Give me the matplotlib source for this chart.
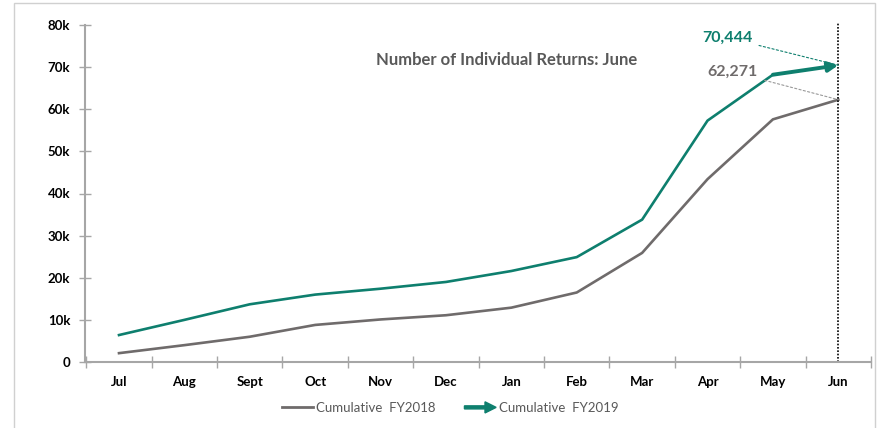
import matplotlib
matplotlib.use("Agg")
import matplotlib.pyplot as plt
from matplotlib.patches import Rectangle, FancyArrow
from matplotlib.lines import Line2D
from matplotlib.legend_handler import HandlerPatch
from matplotlib.ticker import FuncFormatter

months = ["Jul", "Aug", "Sept", "Oct", "Nov", "Dec", "Jan", "Feb", "Mar", "Apr", "May", "Jun"]
fy2018 = [2100, 4000, 6000, 8800, 10100, 11100, 12900, 16500, 25900, 43400, 57600, 62271]
fy2019 = [6400, 10000, 13700, 16000, 17400, 19000, 21600, 24900, 33800, 57300, 68200, 70444]

teal = "#0E7F6E"
grey = "#6F6B6B"
text_grey = "#595959"
axis_grey = "#A6A6A6"

plt.rcParams["font.family"] = ["Lato", "DejaVu Sans"]

fig = plt.figure(figsize=(8.82, 4.28), dpi=100)
ax = fig.add_axes([85 / 882, 1 - 362 / 428, 786 / 882, 337 / 428])

x = list(range(len(months)))
ax.plot(x, fy2018, color=grey, lw=1.9)
ax.plot(x[:-1], fy2019[:-1], color=teal, lw=1.9)
ax.annotate("", xy=(x[-1], fy2019[-1]), xytext=(x[-2], fy2019[-2]),
            arrowprops=dict(arrowstyle="-|>", lw=2.8, color=teal, mutation_scale=14,
                            shrinkA=0, shrinkB=0))

# June marker line
ax.axvline(x[-1], ymin=0, ymax=1.01, color="black", ls=(0, (1, 1)), lw=1.2, clip_on=False)

# value labels
ax.annotate(f"{fy2019[-1]:,}", xy=(x[-1], fy2019[-1]), xytext=(-62, 20), textcoords="offset points",
            ha="right", va="center", fontsize=11.5, fontweight="bold", color=teal,
            arrowprops=dict(arrowstyle="-", color=teal, ls=(0, (2, 2)), lw=0.8, shrinkA=3, shrinkB=0))
ax.annotate(f"{fy2018[-1]:,}", xy=(x[-1], fy2018[-1]), xytext=(-58, 20), textcoords="offset points",
            ha="right", va="center", fontsize=11.5, fontweight="bold", color=grey,
            arrowprops=dict(arrowstyle="-", color="#999999", ls=(0, (2, 2)), lw=0.8, shrinkA=3, shrinkB=0))

ax.text(0.536, 0.896, "Number of Individual Returns: June", transform=ax.transAxes,
        ha="center", va="center", fontsize=12, fontweight="bold", color=text_grey)

ax.set_xlim(-0.52, 11.5)
ax.set_ylim(0, 80000)
ax.set_yticks(range(0, 80001, 10000))
ax.yaxis.set_major_formatter(FuncFormatter(lambda v, p: "0" if v == 0 else f"{int(v / 1000)}k"))
ax.set_xticks(x)
ax.set_xticklabels(months)
ax.set_xticks([i - 0.5 for i in range(13)], minor=True)
ax.tick_params(axis="x", which="major", length=0, pad=10, labelsize=9.5, labelcolor="black")
ax.tick_params(axis="x", which="minor", length=8, direction="inout", color=axis_grey, width=1)
ax.tick_params(axis="y", which="major", length=9, direction="inout", color=axis_grey, width=1,
               labelsize=9.5, pad=6)
for lab in ax.get_xticklabels() + ax.get_yticklabels():
    lab.set_fontweight("bold")

for s in ["top", "right"]:
    ax.spines[s].set_visible(False)
for s in ["left", "bottom"]:
    ax.spines[s].set_color(axis_grey)
    ax.spines[s].set_linewidth(1.5)


class HandlerArrow(HandlerPatch):
    def create_artists(self, legend, orig_handle, xdescent, ydescent, width, height, fontsize, trans):
        p = FancyArrow(0, height / 2, width, 0, width=2.2, head_width=8, head_length=8,
                       length_includes_head=True, color=teal)
        p.set_transform(trans)
        return [p]


arrow_handle = FancyArrow(0, 0, 1, 0, color=teal)
handles = [Line2D([], [], color=grey, lw=2), arrow_handle]
leg = fig.legend(handles, ["Cumulative  FY2018", "Cumulative  FY2019"],
                 handler_map={FancyArrow: HandlerArrow()},
                 loc="center", bbox_to_anchor=(450 / 882, 1 - 408 / 428), ncol=2, frameon=False,
                 fontsize=9.5, handlelength=2.4, columnspacing=2.2, handletextpad=0.2)
for t in leg.get_texts():
    t.set_color(text_grey)

fig.add_artist(Rectangle((14 / 882, -0.05), (875 - 14) / 882, 1.05 - 3 / 428,
                         transform=fig.transFigure, fill=False, edgecolor="#D0D0D0", lw=1))

fig.savefig("out.png", dpi=100)
